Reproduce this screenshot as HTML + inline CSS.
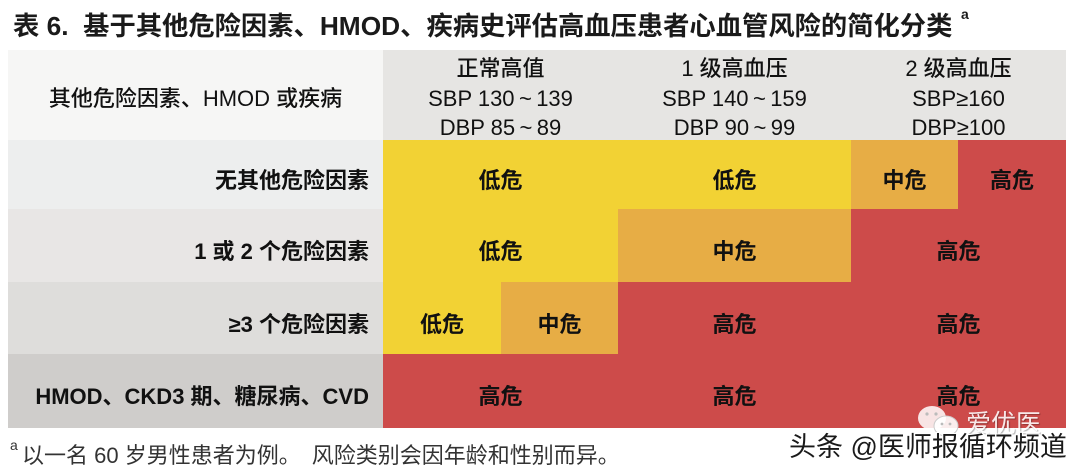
<!DOCTYPE html>
<html><head><meta charset="utf-8">
<style>
html,body{margin:0;padding:0;}
body{width:1080px;height:476px;overflow:hidden;background:#fff;position:relative;font-family:"Liberation Sans","Noto Sans CJK SC",sans-serif;color:#111;}
.a{position:absolute;}
.t{position:absolute;height:30px;line-height:30px;white-space:nowrap;font-size:22px;}
.c{text-align:center;}
.b{font-weight:bold;}
.m{font-weight:500;}
</style></head><body>

<div class="a b" style="left:13px;top:11px;height:30px;line-height:30px;font-size:26.3px;white-space:nowrap;color:#1a1a1a;">表 6.&nbsp; 基于其他危险因素、HMOD、疾病史评估高血压患者心血管风险的简化分类</div>
<div class="a b" style="left:961px;top:5px;font-size:14px;line-height:18px;color:#1a1a1a;">a</div>

<!-- header -->
<div class="a" style="left:8px;top:50px;width:375px;height:90px;background:#f6f6f5;"></div>
<div class="a" style="left:383px;top:50px;width:683px;height:90px;background:#e6e5e3;"></div>

<!-- left column rows -->
<div class="a" style="left:8px;top:140px;width:375px;height:69px;background:#edeeee;"></div>
<div class="a" style="left:8px;top:209px;width:375px;height:73px;background:#e8e6e5;"></div>
<div class="a" style="left:8px;top:282px;width:375px;height:72px;background:#dedddb;"></div>
<div class="a" style="left:8px;top:354px;width:375px;height:74px;background:#cfcdcb;"></div>

<!-- row1 -->
<div class="a" style="left:383px;top:140px;width:468px;height:69px;background:#f2d234;"></div>
<div class="a" style="left:851px;top:140px;width:107px;height:69px;background:#e7ad45;"></div>
<div class="a" style="left:958px;top:140px;width:108px;height:69px;background:#cd4b4a;"></div>
<!-- row2 -->
<div class="a" style="left:383px;top:209px;width:235px;height:73px;background:#f2d234;"></div>
<div class="a" style="left:618px;top:209px;width:233px;height:73px;background:#e7ad45;"></div>
<div class="a" style="left:851px;top:209px;width:215px;height:73px;background:#cd4b4a;"></div>
<!-- row3 -->
<div class="a" style="left:383px;top:282px;width:118px;height:72px;background:#f2d234;"></div>
<div class="a" style="left:501px;top:282px;width:117px;height:72px;background:#e7ad45;"></div>
<div class="a" style="left:618px;top:282px;width:448px;height:72px;background:#cd4b4a;"></div>
<!-- row4 -->
<div class="a" style="left:383px;top:354px;width:683px;height:74px;background:#cd4b4a;"></div>

<!-- header texts -->
<div class="t c m" style="left:8px;width:375px;top:84px;">其他危险因素、HMOD 或疾病</div>

<div class="t c m" style="left:383px;width:235px;top:54px;">正常高值</div>
<div class="t c m" style="left:383px;width:235px;top:84px;">SBP 130&thinsp;~&thinsp;139</div>
<div class="t c m" style="left:383px;width:235px;top:113px;">DBP 85&thinsp;~&thinsp;89</div>

<div class="t c m" style="left:618px;width:233px;top:54px;">1 级高血压</div>
<div class="t c m" style="left:618px;width:233px;top:84px;">SBP 140&thinsp;~&thinsp;159</div>
<div class="t c m" style="left:618px;width:233px;top:113px;">DBP 90&thinsp;~&thinsp;99</div>

<div class="t c m" style="left:851px;width:215px;top:54px;">2 级高血压</div>
<div class="t c m" style="left:851px;width:215px;top:84px;">SBP≥160</div>
<div class="t c m" style="left:851px;width:215px;top:113px;">DBP≥100</div>

<!-- row labels -->
<div class="t b" style="left:8px;width:361px;text-align:right;top:166px;">无其他危险因素</div>
<div class="t b" style="left:8px;width:361px;text-align:right;top:237px;">1 或 2 个危险因素</div>
<div class="t b" style="left:8px;width:361px;text-align:right;top:310px;">≥3 个危险因素</div>
<div class="t b" style="left:8px;width:361px;text-align:right;top:382px;">HMOD、CKD3 期、糖尿病、CVD</div>

<!-- cell texts row1 -->
<div class="t c b" style="left:383px;width:235px;top:166px;">低危</div>
<div class="t c b" style="left:618px;width:233px;top:166px;">低危</div>
<div class="t c b" style="left:851px;width:107px;top:166px;">中危</div>
<div class="t c b" style="left:958px;width:108px;top:166px;">高危</div>
<!-- row2 -->
<div class="t c b" style="left:383px;width:235px;top:237px;">低危</div>
<div class="t c b" style="left:618px;width:233px;top:237px;">中危</div>
<div class="t c b" style="left:851px;width:215px;top:237px;">高危</div>
<!-- row3 -->
<div class="t c b" style="left:383px;width:118px;top:310px;">低危</div>
<div class="t c b" style="left:501px;width:117px;top:310px;">中危</div>
<div class="t c b" style="left:618px;width:233px;top:310px;">高危</div>
<div class="t c b" style="left:851px;width:215px;top:310px;">高危</div>
<!-- row4 -->
<div class="t c b" style="left:383px;width:235px;top:382px;">高危</div>
<div class="t c b" style="left:618px;width:233px;top:382px;">高危</div>
<div class="t c b" style="left:851px;width:215px;top:382px;">高危</div>

<!-- footnote -->
<div class="a" style="left:10px;top:437px;font-size:14px;line-height:16px;color:#333;">a</div>
<div class="t" style="left:22px;top:441px;color:#333;">以一名 60 岁男性患者为例。　风险类别会因年龄和性别而异。</div>

<!-- watermark -->
<svg class="a" style="left:914px;top:404px;" width="50" height="34" viewBox="0 0 50 34">
  <ellipse cx="18" cy="14" rx="14" ry="12" fill="#fff" fill-opacity="0.85"/>
  <ellipse cx="32" cy="22" rx="12" ry="10" fill="#fff" fill-opacity="0.9" stroke="#ccc" stroke-width="1"/>
  <circle cx="13" cy="10" r="1.6" fill="#bbb"/>
  <circle cx="22" cy="10" r="1.6" fill="#bbb"/>
  <circle cx="28" cy="20" r="1.4" fill="#bbb"/>
  <circle cx="36" cy="20" r="1.4" fill="#bbb"/>
</svg>
<div class="a" style="left:966px;top:409px;font-size:25px;line-height:30px;color:#fff;opacity:0.88;white-space:nowrap;text-shadow:1px 1px 1px rgba(0,0,0,0.35);">爱优医</div>
<div class="a" style="left:789px;top:432px;font-size:27px;line-height:30px;color:#1a1a1a;white-space:nowrap;text-shadow:-1px -1px 0 #fff,1px -1px 0 #fff,-1px 1px 0 #fff,1px 1px 0 #fff;">头条 @医师报循环频道</div>

</body></html>
